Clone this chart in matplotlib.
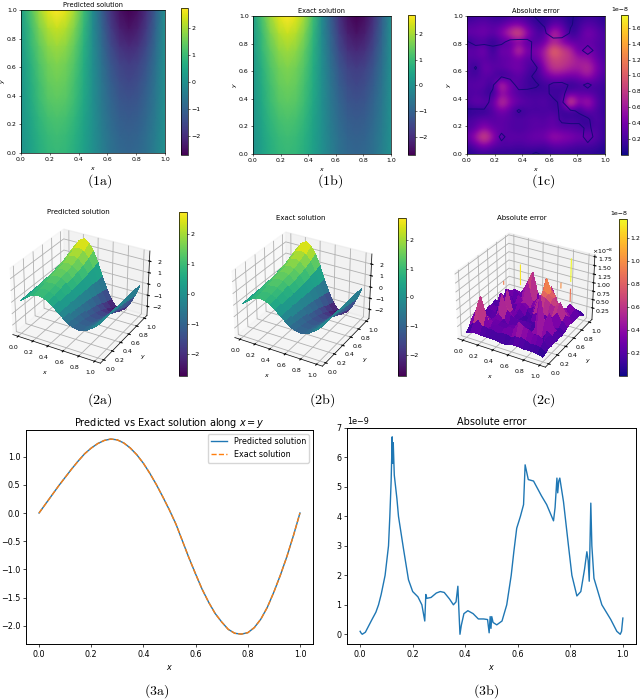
import numpy as np
import matplotlib
matplotlib.use("Agg")
import matplotlib.pyplot as plt
from matplotlib.ticker import ScalarFormatter

W, H = 640, 699
plt.rcParams.update({"mathtext.fontset": "dejavusans", "axes.linewidth": 0.5})

# ---- data ----------------------------------------------------------------
grid_x = [i / 16 for i in range(17)]
sol_y = [0, .125, .25, .375, .5, .625, .75, .875, 1]
# rows from y=0 to y=1
sol_field = [
    [.02, .37, .68, .88, .95, .88, .68, .36, .00, -.36, -.68, -.88, -.95, -.88, -.68, -.36, .00],
    [.05, .41, .75, .97, 1.05, .97, .75, .40, .00, -.40, -.75, -.97, -1.05, -.97, -.75, -.40, .00],
    [.08, .47, .86, 1.11, 1.20, 1.11, .86, .46, .00, -.46, -.85, -1.11, -1.20, -1.11, -.85, -.46, .00],
    [.10, .55, 1.00, 1.30, 1.40, 1.30, 1.00, .53, -.01, -.52, -.96, -1.25, -1.35, -1.25, -.96, -.52, .00],
    [.12, .62, 1.10, 1.43, 1.55, 1.43, 1.10, .60, -.02, -.60, -1.10, -1.43, -1.55, -1.43, -1.10, -.60, .00],
    [.15, .72, 1.22, 1.57, 1.70, 1.57, 1.22, .65, -.03, -.68, -1.25, -1.62, -1.75, -1.62, -1.25, -.68, .00],
    [.20, .85, 1.40, 1.80, 1.95, 1.80, 1.40, .75, -.05, -.82, -1.50, -1.94, -2.10, -1.94, -1.50, -.80, .00],
    [.25, .95, 1.65, 2.10, 2.30, 2.12, 1.65, .88, -.10, -.95, -1.75, -2.25, -2.45, -2.25, -1.75, -.93, .00],
    [.30, 1.15, 1.95, 2.50, 2.75, 2.50, 1.95, 1.05, -.10, -1.10, -1.95, -2.50, -2.72, -2.50, -1.95, -1.05, .00],
]
# signed error (units of 1e-8), rows from y=0 to y=1; its zero set is the dark contour
err_field = [
    [.05, .10, .12, .10, .10, .10, .10, .08, -.06, .08, .12, .12, .10, .10, .10, .08, .04],
    [.15, .30, .48, .30, .25, .25, .20, .25, .25, .20, .30, .30, .25, .20, .20, .18, .08],
    [.32, .62, 1.05, .58, -.22, .32, .30, .32, .38, .38, .62, .52, .48, .38, -.42, .28, .14],
    [.22, .28, .52, .32, .32, .24, .20, .24, .28, .28, .32, .26, .24, .20, -.15, .25, .12],
    [.20, .26, .32, .26, .30, .26, .26, .26, .30, .24, .36, -.16, -.22, -.18, -.08, .28, .14],
    [.06, .10, .08, .24, .42, .28, -.07, .20, .20, .20, .22, -.14, -.10, .08, .32, .22, .12],
    [-.22, -.36, -.32, .28, .90, .50, .36, .28, .22, .28, .16, -.16, 1.20, .42, .75, .28, .14],
    [-.20, -.25, -.18, .08, .52, .36, .22, .18, .20, .20, -.18, -.16, .32, .32, .28, .22, .12],
    [-.28, -.28, -.32, -.07, .92, .36, -.26, -.18, -.08, .16, -.16, -.18, .07, .16, -.16, .22, .14],
    [-.22, -.20, -.28, -.26, -.05, -.18, -.32, -.16, .16, .32, .46, .42, .38, .42, .60, .36, .20],
    [-.30, .05, -.42, -.28, -.32, -.38, -.42, -.28, -.08, .50, .82, .78, .65, .60, .78, .46, .24],
    [-.22, -.28, -.28, -.22, -.28, -.32, -.38, -.25, .32, .60, .88, .82, .75, .60, .56, .36, .20],
    [-.36, -.28, -.46, -.08, -.46, -.32, -.92, -.38, .46, .60, 1.20, .88, .75, .28, -.46, .28, .20],
    [-.05, .20, .20, .08, .20, -.25, -.42, -.22, .22, .36, .65, .46, .32, .32, .32, .28, .20],
    [.36, .34, .42, .28, .50, .80, 1.10, .55, .25, .18, -.82, -.50, .08, .22, .46, .32, .20],
    [.24, .28, .32, .25, .28, .42, .46, .28, .16, -.07, -.32, -.28, -.05, .18, .28, .22, .12],
    [.12, .16, .20, .14, .12, .16, .22, .16, -.06, -.12, -.16, -.14, -.05, .10, .16, .14, .07],
]
# thin spikes rising out of the error surface (units of 1e-8)
spike_x = [.25, .875, .75, .875, .125]
spike_y = [.80, .875, .875, .875, .625]
spike_low = [.73, 1.13, .86, .55, .85]
spike_high = [1.31, 1.77, 1.00, .90, .93]
err_z_ticks = [.25e-8, .5e-8, .75e-8, 1e-8, 1.25e-8, 1.5e-8, 1.75e-8]

diag_x = [i / 40 for i in range(41)]
diag_pred = [0, .16, .32, .48, .63, .78, .92, 1.05, 1.15, 1.23, 1.285, 1.31, 1.295, 1.24, 1.15, 1.03,
             .88, .70, .50, .28, .05, -.2, -.5, -.8, -1.08, -1.35, -1.58, -1.78, -1.93, -2.06, -2.13,
             -2.145, -2.12, -2.03, -1.88, -1.67, -1.4, -1.1, -.77, -.4, 0]
diag_exact = list(diag_pred)
abs_x = [0, .003, .008, .02, .045, .06, .07, .08, .095, .108, .113, .118, .122, .124, .126, .13, .14,
         .146, .165, .184, .2, .22, .235, .246, .25, .254, .27, .29, .305, .32, .34, .355, .365,
         .372, .376, .38, .385, .395, .41, .43, .45, .47, .485, .491, .495, .498, .501, .506, .52,
         .54, .558, .575, .585, .596, .61, .622, .628, .64, .66, .69, .71, .736, .742, .749, .752, .756, .76,
         .774, .793, .806, .825, .84, .854, .863, .868, .872, .878, .882, .89, .92, .954, .977, .99,
         .995, 1]
abs_err = [.1, .05, 0, .07, .5, .75, 1.0, 1.35, 2.0, 3.0, 4, 5.2, 6.7, 5.8, 6.5, 5.4, 4.6,
           4, 2.9, 1.85, 1.45, 1.27, 1.0, .45, 1.35, 1.22, 1.25, 1.4, 1.45, 1.42, 1.2, 1.0, 1.1,
           1.63, .8, 0, .3, .7, .8, .7, .52, .52, .5, .05, .6, .2, .6, .4, .32,
           .45, 1.0, 2.0, 2.8, 3.6, 4.0, 4.4, 5.75, 5.25, 5.2, 4.7, 4.4, 3.85, 4.3, 5.3, 4.8, 5.2, 5.3,
           4.5, 3, 2, 1.3, 1.45, 2.2, 2.8, 2.5, 1.8, 4.45, 3.0, 1.9, 1.0, .5, .1, 0,
           .1, .55]
captions = ["(1a)", "(1b)", "(1c)", "(2a)", "(2b)", "(2c)", "(3a)", "(3b)"]
caption_x = [100, 330, 543, 100, 322, 543, 157, 486]
caption_y = [181, 181, 181, 400, 400, 400, 691, 691]

sol = np.array(sol_field)
err = np.array(err_field) * 1e-8
X_s, Y_s = np.meshgrid(grid_x, sol_y)
X_e, Y_e = np.meshgrid(grid_x, grid_x)

fig = plt.figure(figsize=(W / 100, H / 100), dpi=100)


def add_px(x0, y0, x1, y1, **kw):
    return fig.add_axes([x0 / W, 1 - y1 / H, (x1 - x0) / W, (y1 - y0) / H], **kw)


def small_cbar(mappable, box, ticks=None):
    cax = add_px(*box)
    cb = fig.colorbar(mappable, cax=cax, ticks=ticks)
    cb.ax.tick_params(labelsize=4.5, length=1.5, width=0.4, pad=1)
    cb.outline.set_linewidth(0.5)
    cb.ax.yaxis.get_offset_text().set_fontsize(4.5)
    return cb


def style_2d(ax, fs=4.5, title=""):
    ax.set_xlim(0, 1)
    ax.set_ylim(0, 1)
    ax.set_xticks([0, .2, .4, .6, .8, 1])
    ax.set_yticks([0, .2, .4, .6, .8, 1])
    ax.tick_params(labelsize=fs, length=1.5, width=0.4, pad=1.5)
    ax.set_xlabel("$x$", fontsize=fs, labelpad=2)
    ax.set_ylabel("$y$", fontsize=fs, labelpad=0)
    ax.set_title(title, fontsize=fs + .3, pad=2.5)


# ---- row 1: heat maps ----------------------------------------------------
d = 1 / 16
ext_e = [-d / 2, 1 + d / 2, -d / 2, 1 + d / 2]
row1 = [((21, 10, 165, 153), (181, 8, 188, 155), "Predicted solution"),
        ((253, 16, 391, 154), (408, 15, 415, 155), "Exact solution")]
for box, cbox, title in row1:
    ax = add_px(*box)
    im = ax.pcolormesh(X_s, Y_s, sol, cmap="viridis", vmin=-2.72, vmax=2.75, shading="gouraud")
    style_2d(ax, title=title)
    small_cbar(im, cbox, ticks=[-2, -1, 0, 1, 2])

ax = add_px(467, 16, 605, 154)
im = ax.imshow(np.abs(err), origin="lower", extent=ext_e, aspect="auto", cmap="plasma",
               vmin=0, vmax=1.76e-8, interpolation="bicubic")
ax.contour(X_e, Y_e, err, levels=[0], colors="#17087a", linewidths=0.7)
style_2d(ax, title="Absolute error")
small_cbar(im, (621, 15, 628, 155), ticks=[x * 1e-8 for x in (.2, .4, .6, .8, 1, 1.2, 1.4, 1.6)])


# ---- row 2: surfaces -----------------------------------------------------
S = 156


def box3d(cx, cy):
    return cx - S / 2, cy - S / 2, cx + S / 2, cy + S / 2


def style_3d(ax, title, cx, cy, tx, ty):
    ax.tick_params(labelsize=4.5, pad=-3.5, length=2, width=0.4)
    ax.set_xticks([0, .2, .4, .6, .8, 1])
    ax.set_yticks([0, .2, .4, .6, .8, 1])
    ax.set_xlabel("$x$", fontsize=4.5, labelpad=-9)
    ax.set_ylabel("$y$", fontsize=4.5, labelpad=-9)
    for a in (ax.xaxis, ax.yaxis, ax.zaxis):
        a._axinfo["grid"]["linewidth"] = 0.6
        a._axinfo["axisline"]["linewidth"] = 0.5
    # Axes3D.set_title scales the y position by 0.92
    ax.set_title(title, fontsize=5, x=(tx - cx + S / 2) / S,
                 y=(cy + S / 2 - ty - 3) / S / 0.92, pad=0)


row2 = [((79, 295), (179, 212, 187, 376), "Predicted solution", 78, 211),
        ((301, 298), (398, 218, 406, 376), "Exact solution", 301, 217)]

for (cx, cy), cbox, title, tx, ty in row2:
    ax = add_px(*box3d(cx, cy), projection="3d", facecolor="none")
    surf = ax.plot_surface(X_s, Y_s, sol, cmap="viridis", vmin=-2.72, vmax=2.75,
                           linewidth=0, antialiased=False, rstride=1, cstride=1)
    style_3d(ax, title, cx, cy, tx, ty)
    ax.set_zticks([-2, -1, 0, 1, 2])
    small_cbar(surf, cbox, ticks=[-2, -1, 0, 1, 2])

cx, cy = 524, 299
ax = add_px(*box3d(cx, cy), projection="3d", facecolor="none")
surf = ax.plot_surface(X_e, Y_e, np.abs(err), cmap="plasma", vmin=0, vmax=1.37e-8,
                       linewidth=0, antialiased=False, rstride=1, cstride=1)
for sx, sy, lo, hi in zip(spike_x, spike_y, spike_low, spike_high):
    ax.plot([sx, sx], [sy, sy], [lo * 1e-8, hi * 1e-8], lw=0.8,
            color=plt.get_cmap("plasma")(min(hi / 1.37, 1.0)))
style_3d(ax, "Absolute error", cx, cy, 522, 217)
ax.set_zlim(-.1e-8, 1.8e-8)
ax.set_zticks(err_z_ticks)
ax.zaxis.set_major_formatter(ScalarFormatter(useMathText=True))
ax.zaxis.get_offset_text().set_visible(False)
fig.text(603 / W, 1 - 251 / H, r"$\times 10^{-8}$", fontsize=4.5, ha="center", va="center")
small_cbar(surf, (619, 219, 627, 376), ticks=[x * 1e-8 for x in (.2, .4, .6, .8, 1, 1.2)])

# ---- row 3: line plots ---------------------------------------------------
ax = add_px(26, 430, 313, 644)
ax.plot(diag_x, diag_pred, lw=1.0, color="C0", label="Predicted solution")
ax.plot(diag_x, diag_exact, lw=1.0, ls="--", color="C1", label="Exact solution")
ax.legend(fontsize=5.8, loc="upper right", borderpad=.4)
ax.tick_params(labelsize=5.8, length=2, width=0.5, pad=2)
ax.set_xlabel("$x$", fontsize=5.8, labelpad=3)
ax.set_title("Predicted vs Exact solution along $x = y$", fontsize=7, pad=2.5)
ax.set_ylim(-2.32, 1.47)
for s in ax.spines.values():
    s.set_linewidth(0.7)

ax = add_px(347, 428, 636, 644)
ax.plot(abs_x, np.array(abs_err) * 1e-9, lw=1.0, color="C0")
ax.tick_params(labelsize=5.8, length=2, width=0.5, pad=2)
ax.yaxis.get_offset_text().set_fontsize(5.8)
ax.set_xlabel("$x$", fontsize=5.8, labelpad=3)
ax.set_title("Absolute error", fontsize=7, pad=2.5)
ax.set_ylim(-.33e-9, 7e-9)
for s in ax.spines.values():
    s.set_linewidth(0.7)

for t, x, y in zip(captions, caption_x, caption_y):
    fig.text(x / W, 1 - y / H, f"$\\mathrm{{{t}}}$", fontsize=10, math_fontfamily="cm",
             ha="center", va="center")

fig.savefig("out.png", dpi=100)
